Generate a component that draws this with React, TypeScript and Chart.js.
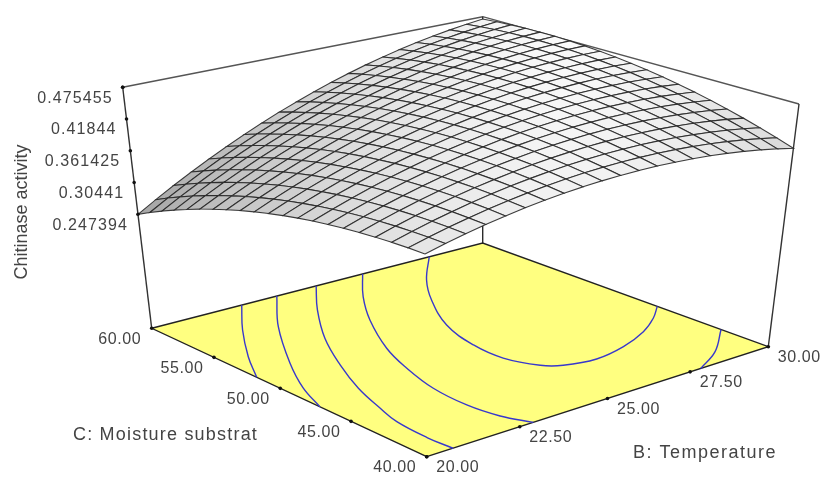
import React, { useEffect, useRef } from "react";
import { Chart, registerables } from "chart.js";

Chart.register(...registerables);

const temperatureB = [20, 20.5, 21, 21.5, 22, 22.5, 23, 23.5, 24, 24.5, 25, 25.5, 26, 26.5, 27, 27.5, 28, 28.5, 29, 29.5, 30];
const moistureC = [40, 41, 42, 43, 44, 45, 46, 47, 48, 49, 50, 51, 52, 53, 54, 55, 56, 57, 58, 59, 60];
// rows: moisture 40 -> 60, columns: temperature 20 -> 30
const chitinase = [
  [.3780,.3864,.3940,.4008,.4068,.4121,.4165,.4202,.4231,.4252,.4265,.4270,.4268,.4257,.4239,.4213,.4179,.4137,.4088,.4030,.3965],
  [.3775,.3864,.3945,.4018,.4083,.4141,.4191,.4233,.4267,.4293,.4311,.4321,.4324,.4319,.4306,.4285,.4256,.4219,.4175,.4122,.4062],
  [.3763,.3857,.3944,.4022,.4092,.4155,.4210,.4257,.4296,.4327,.4351,.4366,.4374,.4374,.4366,.4350,.4326,.4295,.4256,.4208,.4153],
  [.3745,.3845,.3936,.4019,.4095,.4163,.4223,.4275,.4319,.4356,.4384,.4405,.4418,.4423,.4420,.4409,.4391,.4364,.4330,.4288,.4238],
  [.3721,.3825,.3922,.4010,.4091,.4164,.4229,.4286,.4336,.4377,.4411,.4437,.4455,.4465,.4467,.4462,.4448,.4427,.4398,.4361,.4316],
  [.3691,.3800,.3902,.3995,.4081,.4159,.4230,.4292,.4346,.4393,.4432,.4463,.4486,.4501,.4509,.4508,.4500,.4484,.4460,.4428,.4388],
  [.3654,.3768,.3875,.3974,.4065,.4148,.4223,.4291,.4350,.4402,.4446,.4482,.4510,.4531,.4543,.4548,.4545,.4534,.4515,.4488,.4454],
  [.3611,.3730,.3842,.3946,.4042,.4131,.4211,.4284,.4348,.4405,.4454,.4495,.4529,.4554,.4572,.4582,.4584,.4578,.4564,.4542,.4513],
  [.3561,.3686,.3803,.3912,.4013,.4107,.4192,.4270,.4340,.4402,.4456,.4502,.4541,.4571,.4594,.4609,.4616,.4615,.4607,.4590,.4566],
  [.3505,.3635,.3757,.3871,.3978,.4076,.4167,.4250,.4325,.4392,.4451,.4503,.4546,.4582,.4610,.4630,.4642,.4647,.4643,.4632,.4613],
  [.3443,.3578,.3705,.3825,.3936,.4040,.4136,.4224,.4304,.4376,.4441,.4497,.4546,.4587,.4620,.4645,.4662,.4672,.4673,.4667,.4653],
  [.3375,.3515,.3647,.3772,.3888,.3997,.4098,.4191,.4276,.4354,.4423,.4485,.4539,.4585,.4623,.4653,.4676,.4690,.4697,.4696,.4687],
  [.3300,.3445,.3583,.3712,.3834,.3948,.4054,.4152,.4243,.4325,.4400,.4467,.4526,.4577,.4620,.4655,.4683,.4703,.4715,.4719,.4715],
  [.3219,.3369,.3512,.3647,.3773,.3892,.4004,.4107,.4203,.4290,.4370,.4442,.4506,.4562,.4611,.4651,.4684,.4709,.4726,.4735,.4736],
  [.3131,.3287,.3435,.3574,.3706,.3831,.3947,.4055,.4156,.4249,.4334,.4411,.4480,.4541,.4595,.4641,.4678,.4708,.4731,.4745,.4751],
  [.3038,.3198,.3351,.3496,.3633,.3763,.3884,.3998,.4103,.4201,.4291,.4373,.4448,.4514,.4573,.4624,.4667,.4702,.4729,.4748,.4760],
  [.2937,.3103,.3261,.3411,.3554,.3688,.3815,.3933,.4044,.4147,.4242,.4330,.4409,.4481,.4545,.4600,.4649,.4689,.4721,.4746,.4762],
  [.2831,.3002,.3165,.3320,.3468,.3607,.3739,.3863,.3979,.4087,.4187,.4280,.4364,.4441,.4510,.4571,.4624,.4670,.4707,.4737,.4759],
  [.2718,.2895,.3063,.3223,.3376,.3520,.3657,.3786,.3907,.4021,.4126,.4224,.4313,.4395,.4469,.4535,.4594,.4644,.4687,.4722,.4748],
  [.2599,.2781,.2954,.3119,.3277,.3427,.3569,.3703,.3829,.3948,.4058,.4161,.4256,.4343,.4422,.4493,.4557,.4612,.4660,.4700,.4732],
  [.2474,.2660,.2839,.3009,.3172,.3327,.3474,.3613,.3745,.3868,.3984,.4092,.4192,.4285,.4368,.4445,.4513,.4574,.4627,.4672,.4709],
];
// contour lines on the floor, as [temperature, moisture]
const contour1 = [[22.52, 60], [21.53, 57.13], [20.61, 54.09], [20, 51.74]];
const contour2 = [[23.54, 60], [22.29, 56.44], [21.08, 52.24], [20.39, 49.4], [20, 47.15]];
const contour3 = [[24.71, 60], [23.68, 57.15], [22.64, 53.81], [21.86, 50.62], [21.29, 47.83], [20.93, 45.41], [20.72, 43.74], [20.65, 41.54], [20.69, 40]];
const contour4 = [[26.13, 60], [25.09, 57.28], [24.19, 54.45], [23.31, 50.97], [22.86, 48.4], [22.53, 45.75], [22.45, 43.31], [22.58, 41.44], [22.88, 40]];
const contour5 = [[28.24, 60], [27.04, 57.27], [26.19, 54.81], [25.34, 51.63], [24.95, 48.78], [24.91, 46.63], [25.24, 44.88], [25.63, 44.22], [26.47, 43.85], [27.48, 44.24], [28.52, 45.1], [29.34, 46.14], [30, 47.23]];
const contour6 = [[30, 43.0], [28.84, 41.1], [27.83, 40]];
const zTickLabels = ["0.247394", "0.30441", "0.361425", "0.41844", "0.475455"];
const temperatureTicks = ["20.00", "22.50", "25.00", "27.50", "30.00"];
const moistureTicks = ["40.00", "45.00", "50.00", "55.00", "60.00"];

const Z_MIN = 0.247394, Z_MAX = 0.475455, Z_BASE = 0.473;
type P = [number, number];
// view of the box: floor and top corners as [B low/C low, B high/C low, B low/C high, B high/C high]
const FLOOR: P[] = [[426.7, 456.7], [768.3, 346.7], [151.7, 328.3], [482.7, 243]];
const TOP: P[] = [[424.5, 195], [799, 104], [122.7, 87.3], [482.7, 16.7]];

function homography(q: P[]) {
  const [A, R, L, K] = q;
  const sx = A[0] - R[0] + K[0] - L[0], sy = A[1] - R[1] + K[1] - L[1];
  const dx1 = R[0] - K[0], dx2 = L[0] - K[0], dy1 = R[1] - K[1], dy2 = L[1] - K[1];
  const D = dx1 * dy2 - dx2 * dy1;
  const g = (sx * dy2 - dx2 * sy) / D, h = (dx1 * sy - sx * dy1) / D;
  const a = R[0] - A[0] + g * R[0], b = L[0] - A[0] + h * L[0];
  const d = R[1] - A[1] + g * R[1], e = L[1] - A[1] + h * L[1];
  return (s: number, t: number): P => {
    const w = g * s + h * t + 1;
    return [(a * s + b * t + A[0]) / w, (d * s + e * t + A[1]) / w];
  };
}
const floorH = homography(FLOOR), topH = homography(TOP);
function project(B: number, C: number, frac: number) {
  const s = (B - 20) / 10, t = (C - 40) / 20;
  const f = floorH(s, t), u = topH(s, t);
  return { x: f[0] + (u[0] - f[0]) * frac, y: f[1] + (u[1] - f[1]) * frac };
}
const zFrac = (z: number) => Z_BASE + (1 - Z_BASE) * (z - Z_MIN) / (Z_MAX - Z_MIN);
const onSurface = (B: number, C: number, z: number) => project(B, C, zFrac(z));

function quadCells() {
  const cells: { depth: number; data: { x: number; y: number }[]; gray: number }[] = [];
  for (let j = 0; j < 20; j++) for (let i = 0; i < 20; i++) {
    const z00 = chitinase[j][i], z10 = chitinase[j][i + 1], z01 = chitinase[j + 1][i], z11 = chitinase[j + 1][i + 1];
    const ds = ((z10 - z00) + (z11 - z01)) * 10, dt = ((z01 - z00) + (z11 - z10)) * 10;
    const slope = Math.hypot(ds, dt);
    const gray = Math.max(110, Math.round(252 - 90 * slope - 220 * slope * slope));
    cells.push({
      depth: i + j,
      gray,
      data: [
        onSurface(temperatureB[i], moistureC[j], z00),
        onSurface(temperatureB[i + 1], moistureC[j], z10),
        onSurface(temperatureB[i + 1], moistureC[j + 1], z11),
        onSurface(temperatureB[i], moistureC[j + 1], z01),
        onSurface(temperatureB[i], moistureC[j], z00),
      ],
    });
  }
  cells.sort((a, b) => b.depth - a.depth);
  return cells;
}

function line(data: { x: number; y: number }[], extra: object = {}) {
  return { data, showLine: true, pointRadius: 0, borderColor: "#2b2b2b", borderWidth: 1.4, fill: false, ...extra };
}

function buildDatasets() {
  const c = project;
  const seq: any[] = [];
  seq.push(line([c(20, 60, 1), c(30, 60, 1), c(30, 40, 1)], { borderColor: "#555" }));
  seq.push(line([c(30, 60, 0), c(30, 60, 1)]));
  seq.push(line([c(20, 40, 0), c(30, 40, 0), c(30, 60, 0), c(20, 60, 0), c(20, 40, 0)], { fill: "shape", backgroundColor: "#ffff80", borderColor: "#222" }));
  for (const contour of [contour1, contour2, contour3, contour4, contour5, contour6]) {
    seq.push(line(contour.map(([b, m]) => c(b, m, 0)), { borderColor: "#3838cc", borderWidth: 1.4, tension: 0.4 }));
  }
  seq.push(line([c(20, 60, 0), c(20, 60, 1)], { borderColor: "#333" }));
  seq.push(line([c(30, 40, 0), c(30, 40, 1)], { borderColor: "#333" }));
  for (const q of quadCells()) {
    seq.push(line(q.data, { fill: "shape", backgroundColor: `rgb(${q.gray},${q.gray},${q.gray})`, borderColor: "rgba(40,40,40,0.9)", borderWidth: 1.1 }));
  }
  const tickPts = [
    ...zTickLabels.map((l) => project(20, 60, zFrac(parseFloat(l)))),
    ...temperatureTicks.map((l) => project(parseFloat(l), 40, 0)),
    ...moistureTicks.map((l) => project(20, parseFloat(l), 0)),
    project(20, 60, 1),
  ];
  seq.push({ data: tickPts, showLine: false, pointRadius: 1.8, pointBackgroundColor: "#111", pointBorderWidth: 0 });
  return seq.map((d, i) => ({ ...d, order: seq.length - i }));
}

const textPlugin = {
  id: "plotText",
  afterDraw(chart: any) {
    const { ctx, scales } = chart;
    const px = (p: { x: number; y: number }): P => [scales.x.getPixelForValue(p.x), scales.y.getPixelForValue(p.y)];
    ctx.save();
    ctx.fillStyle = "#444";
    ctx.textBaseline = "middle";
    ctx.font = "16px 'Liberation Sans'";
    ctx.letterSpacing = "1.1px";
    ctx.textAlign = "right";
    for (const l of zTickLabels) {
      const [x, y] = px(project(20, 60, zFrac(parseFloat(l))));
      ctx.fillText(l, x - 10, y + 11);
    }
    ctx.letterSpacing = "0.6px";
    ctx.textAlign = "center";
    for (const l of temperatureTicks) {
      const [x, y] = px(project(parseFloat(l), 40, 0));
      ctx.fillText(l, x + 31, y + 11);
    }
    for (const l of moistureTicks) {
      const [x, y] = px(project(20, parseFloat(l), 0));
      ctx.fillText(l, x - 32, y + 11);
    }
    ctx.font = "18px 'Liberation Sans'";
    ctx.letterSpacing = "1.2px";
    ctx.textAlign = "left";
    ctx.fillText("C: Moisture substrat", 73, 435);
    ctx.letterSpacing = "1.5px";
    ctx.fillText("B: Temperature", 633, 453);
    ctx.letterSpacing = "0px";
    ctx.translate(22, 212);
    ctx.rotate(-Math.PI / 2);
    ctx.textAlign = "center";
    ctx.fillText("Chitinase activity", 0, 0);
    ctx.restore();
  },
};

export default function App() {
  const ref = useRef<HTMLCanvasElement>(null);
  useEffect(() => {
    const chart = new Chart(ref.current!, {
      type: "scatter",
      data: { datasets: buildDatasets() },
      options: {
        animation: false,
        responsive: false,
        layout: { padding: 0, autoPadding: false },
        plugins: { legend: { display: false }, tooltip: { enabled: false } },
        scales: {
          x: { type: "linear", display: false, min: 0, max: 822 },
          y: { type: "linear", display: false, min: 0, max: 477, reverse: true },
        },
      },
      plugins: [textPlugin],
    } as any);
    return () => chart.destroy();
  }, []);
  return (
    <div style={{ position: "fixed", left: 0, top: 0, width: 822, height: 477, background: "#fff" }}>
      <canvas ref={ref} width={822} height={477} style={{ display: "block", filter: "blur(0.4px)" }} />
    </div>
  );
}
